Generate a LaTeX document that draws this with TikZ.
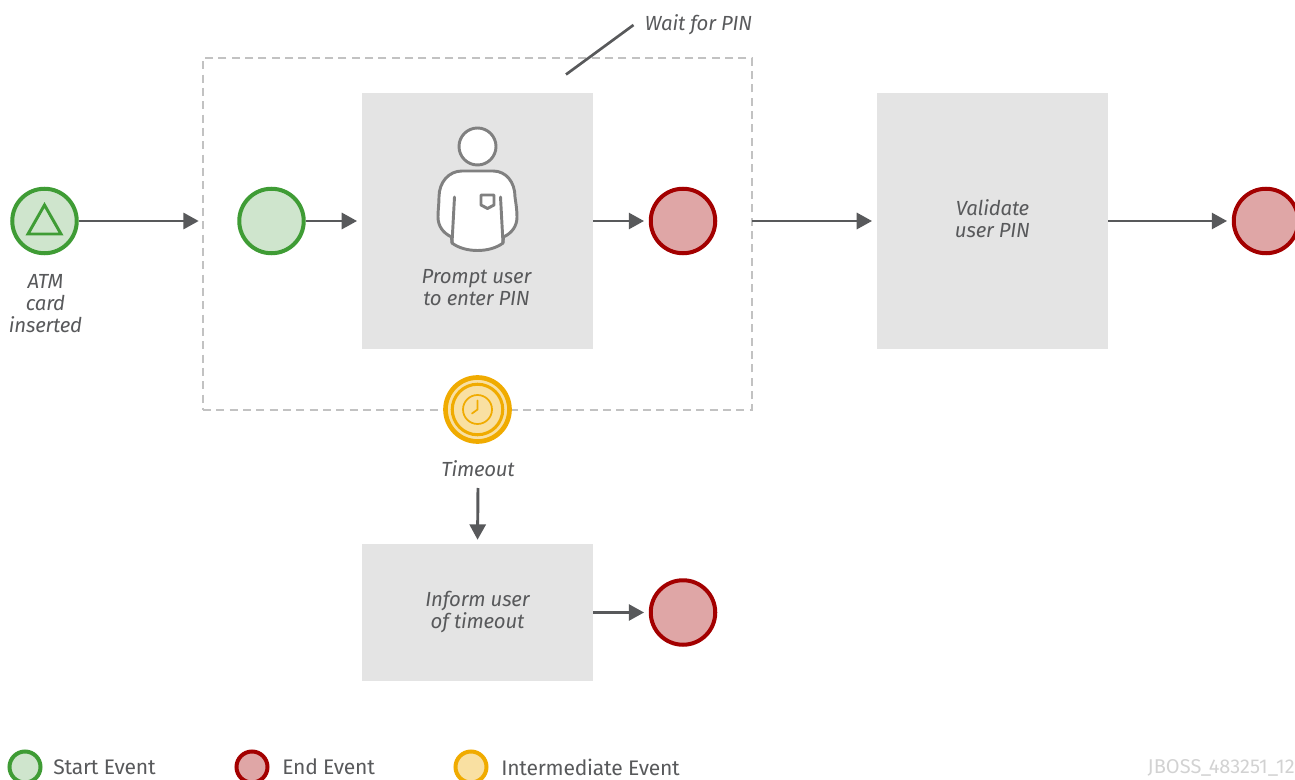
\documentclass[tikz,border=0pt]{standalone}
\usepackage{fontspec}
\setmainfont{Fira Sans}
\usetikzlibrary{arrows.meta,calc}
\definecolor{ink}{HTML}{58595B}
\definecolor{taskfill}{HTML}{E4E4E4}
\definecolor{dashgrey}{HTML}{C2C2C2}
\definecolor{startline}{HTML}{3F9C35}
\definecolor{startfill}{HTML}{CFE5CD}
\definecolor{endline}{HTML}{A30000}
\definecolor{endfill}{HTML}{DFA6A6}
\definecolor{midline}{HTML}{F0AB00}
\definecolor{midfill}{HTML}{F9E0A2}
\definecolor{iconline}{HTML}{808080}
\definecolor{idgrey}{HTML}{D2D2D2}
\tikzset{
  x=.75pt,y=-.75pt,
  every node/.style={inner sep=0pt},
  label text/.style={font=\fontsize{15.3}{16.5}\selectfont\itshape\addfontfeature{LetterSpace=-1},text=ink,align=center},
  legend text/.style={font=\fontsize{15.8}{18}\selectfont\addfontfeature{LetterSpace=-1},text=ink,anchor=west},
  task/.style={fill=taskfill,minimum width=231*.75pt},
  startev/.style={circle,draw=startline,fill=startfill,line width=3pt,minimum size=64.5*.75pt},
  endev/.style={circle,draw=endline,fill=endfill,line width=3pt,minimum size=64.5*.75pt},
  midev/.style={circle,draw=midline,fill=midfill,line width=3.5pt,minimum size=64*.75pt},
  legendev/.style={circle,line width=3pt,minimum size=31*.75pt},
  flow/.style={draw=ink,line width=2.2pt,-{Triangle[length=11.5pt,width=12pt]}},
  icon/.style={draw=iconline,line width=2.2pt,fill=white,line join=round,line cap=round},
}
\begin{document}
\begin{tikzpicture}
\useasboundingbox (0,0) rectangle (1295,780);
\clip (0,0) rectangle (1295,780);
% sub-process frame
\node[draw=dashgrey,line width=2pt,dash pattern=on 6pt off 4pt,minimum width=549*.75pt,minimum height=352*.75pt] (sub) at (477.5,234) {};
% tasks
\node[task,minimum height=256*.75pt] (prompt) at (477.5,221) {};
\node[task,minimum height=256*.75pt] (validate) at (992.5,221) {};
\node[task,minimum height=137*.75pt] (inform) at (477.5,612.5) {};
\node[label text] (promptlabel) at (476.5,288) {Prompt user\\to enter PIN};
\node[label text] (validatelabel) at (992.5,219) {Validate\\user PIN};
\node[label text] (informlabel) at (477.5,612) {Inform user\\of timeout};
% events
\node[startev] (start) at (44.5,221) {};
\draw[draw=startline,line width=2.2pt,line join=miter] (44.5,205) -- (61,234) -- (28,234) -- cycle;
\node[startev] (substart) at (271.5,221) {};
\node[endev] (subend) at (683,221) {};
\node[endev] (end) at (1266,221) {};
\node[endev] (informend) at (683,612.5) {};
\node[midev] (timer) at (477.5,409.5) {};
\node[circle,draw=midline,line width=2.3pt,minimum size=50.5*.75pt] (timerring) at (477.5,409.5) {};
\node[circle,draw=midline,line width=1.3pt,minimum size=29*.75pt] (clock) at (477.5,409.5) {};
\draw[midline,line width=1.3pt,line cap=round] (477.5,400.5) -- (477.5,409.5) -- (472,413.5);
% user icon
\draw[icon] (451.5,237) .. controls (443,233) and (438,226) .. (438,217)
  .. controls (438,210) and (439,204) .. (439,197)
  .. controls (439,182) and (449,171) .. (462,171) -- (493,171)
  .. controls (506,171) and (515,182) .. (515,197)
  .. controls (516,204) and (517,210) .. (517,217)
  .. controls (517,226) and (512,233) .. (503.5,237)
  -- (503,243) .. controls (490,253) and (465,253) .. (452,243) -- cycle;
\draw[icon] (454.5,197) -- (452,243);
\draw[icon] (500.5,197) -- (503,243);
\node[circle,icon,minimum size=37*.75pt] (head) at (477.5,146.5) {};
\draw[icon] (481,195) -- (494,195) -- (494,205) -- (487.5,208.5) -- (481,205) -- cycle;
% connectors
\draw[flow,shorten >=2.2pt] (start.east) -- (start.east -| sub.west);
\draw[flow,shorten >=3.5pt] (substart.east) -- (prompt.west);
\draw[flow,shorten >=3.5pt] (prompt.east) -- (subend.west);
\draw[flow,shorten >=3.5pt,shorten <=-1pt] (prompt.east -| sub.east) -- (validate.west);
\draw[flow,shorten >=3.5pt] (validate.east) -- (end.west);
\draw[flow,shorten >=3.5pt] (inform.east) -- (informend.west);
\node[label text] (timeoutlabel) at (478,468.5) {Timeout};
\draw[flow,shorten >=3pt] (timeoutlabel.south |- 0,488) -- (inform.north);
% labels
\node[label text] (atm) at (45.5,303.5) {ATM\\card\\inserted};
\node[label text] (waitlabel) at (698.5,24.5) {Wait for PIN};
\coordinate (waita) at (633.5,25);
\coordinate (waitb) at (566,74.5);
\draw[ink,line width=2pt] (waita) -- (waitb);
% legend
\node[legendev,draw=startline,fill=startfill] (lstart) at (25,767) {};
\node[legend text] (lstarttext) at (53,767) {Start Event};
\node[legendev,draw=endline,fill=endfill] (lend) at (252,767) {};
\node[legend text] (lendtext) at (282,767) {End Event};
\node[legendev,draw=midline,fill=midfill] (lmid) at (471,767) {};
\node[legend text] (lmidtext) at (501,767) {Intermediate Event};
\node[font=\fontsize{15}{15}\selectfont,text=idgrey,anchor=east] (jboss) at (1295,768) {JBOSS\_483251\_12};
\end{tikzpicture}
\end{document}
